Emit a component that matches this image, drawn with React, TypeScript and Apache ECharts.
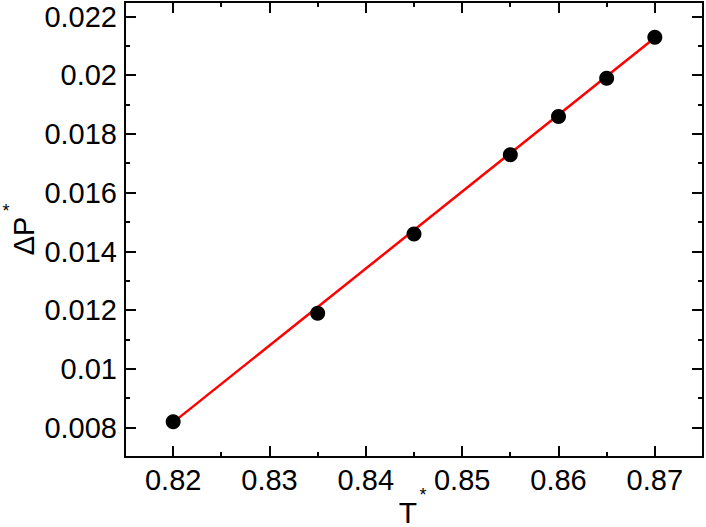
import React, { useEffect, useRef } from "react";
import * as echarts from "echarts";

const tData = [0.82, 0.835, 0.845, 0.855, 0.86, 0.865, 0.87];
const dpData = [0.0082, 0.0119, 0.0146, 0.0173, 0.0186, 0.0199, 0.0213];
const fitT = [0.82, 0.87];
const fitDP = [0.00818, 0.02128];
const xMajor = [0.82, 0.83, 0.84, 0.85, 0.86, 0.87];
const xMinor = [0.825, 0.835, 0.845, 0.855, 0.865];
const yMajor = [0.008, 0.01, 0.012, 0.014, 0.016, 0.018, 0.02, 0.022];
const yMinor = [0.007, 0.009, 0.011, 0.013, 0.015, 0.017, 0.019, 0.021];

const FONT = "Liberation Sans, Arial, Helvetica, sans-serif";
const X_MIN = 0.815, X_MAX = 0.875, Y_MIN = 0.007, Y_MAX = 0.0225;
const BLACK = "#000000";
const INK = "#050505";

export default function App() {
  const ref = useRef<HTMLDivElement>(null);
  useEffect(() => {
    const chart = echarts.init(ref.current!, null, { renderer: "svg" });
    const seg = (x1: number, y1: number, x2: number, y2: number) => ({
      type: "line",
      shape: { x1, y1, x2, y2 },
      style: { stroke: INK, lineWidth: 2, opacity: 1 },
    });
    chart.setOption({
      animation: false,
      grid: {
        left: 125,
        right: 3,
        top: 2,
        bottom: 70,
        show: true,
        borderColor: INK,
        borderWidth: 2,
      },
      xAxis: {
        type: "value",
        min: X_MIN,
        max: X_MAX,
        splitLine: { show: false },
        axisLine: { show: false },
        axisTick: { show: false },
        axisLabel: {
          customValues: xMajor,
          fontSize: 29,
          fontFamily: FONT,
          color: BLACK,
          margin: 8,
          formatter: (v: number) => String(v),
        },
      },
      yAxis: {
        type: "value",
        min: Y_MIN,
        max: Y_MAX,
        splitLine: { show: false },
        axisLine: { show: false },
        axisTick: { show: false },
        axisLabel: {
          customValues: yMajor,
          fontSize: 29,
          fontFamily: FONT,
          color: BLACK,
          margin: 8,
          formatter: (v: number) => String(v),
        },
      },
      graphic: [
        {
          type: "text",
          x: 408,
          y: 512,
          style: { text: "T", fontSize: 30, fontFamily: FONT, fill: BLACK, align: "center", verticalAlign: "middle" },
        },
        {
          type: "text",
          x: 423,
          y: 495,
          style: { text: "*", fontSize: 18, fontFamily: FONT, fill: BLACK, align: "center", verticalAlign: "middle" },
        },
        {
          type: "text",
          x: 24,
          y: 236,
          rotation: Math.PI / 2,
          style: { text: "ΔP", fontSize: 29, fontFamily: FONT, fill: BLACK, align: "center", verticalAlign: "middle" },
        },
        {
          type: "text",
          x: 6,
          y: 211,
          style: { text: "*", fontSize: 18, fontFamily: FONT, fill: BLACK, align: "center", verticalAlign: "middle" },
        },
      ],
      series: [
        {
          type: "custom",
          data: [...xMajor.map((v) => [v, 1]), ...xMinor.map((v) => [v, 0])],
          renderItem: (params: any, api: any) => {
            const cs = params.coordSys;
            const px = Math.round(api.coord([api.value(0), Y_MIN])[0]);
            const len = api.value(1) === 1 ? 11 : 5;
            const yb = cs.y + cs.height;
            const yt = cs.y;
            return {
              type: "group",
              children: [seg(px, yb, px, yb - len), seg(px, yt, px, yt + len)],
            };
          },
          z: 5,
        },
        {
          type: "custom",
          data: [...yMajor.map((v) => [X_MIN, v, 1]), ...yMinor.map((v) => [X_MIN, v, 0])],
          renderItem: (params: any, api: any) => {
            const cs = params.coordSys;
            const py = Math.round(api.coord([X_MIN, api.value(1)])[1]);
            const len = api.value(2) === 1 ? 11 : 5;
            const xl = cs.x;
            const xr = cs.x + cs.width;
            return {
              type: "group",
              children: [seg(xl, py, xl + len, py), seg(xr, py, xr - len, py)],
            };
          },
          z: 5,
        },
        {
          type: "line",
          data: fitT.map((t, i) => [t, fitDP[i]]),
          showSymbol: false,
          lineStyle: { color: "#ff0000", width: 2.5 },
          z: 2,
        },
        {
          type: "scatter",
          data: tData.map((t, i) => [t, dpData[i]]),
          symbol: "circle",
          symbolSize: 15,
          itemStyle: { color: BLACK, opacity: 1 },
          z: 3,
        },
      ],
    });
    return () => chart.dispose();
  }, []);
  return (
    <div
      ref={ref}
      style={{ position: "absolute", left: 0, top: 0, width: 706, height: 527 }}
    />
  );
}
